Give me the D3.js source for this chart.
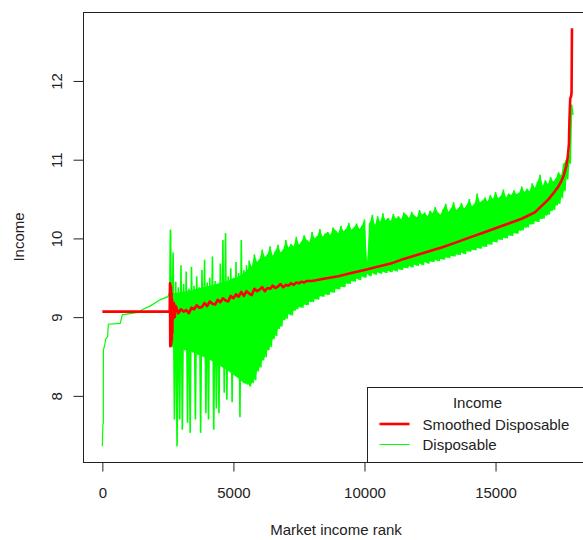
<!DOCTYPE html>
<html>
<head>
<meta charset="utf-8">
<script src="https://cdn.jsdelivr.net/npm/d3@7"></script>
<style>
  body { margin: 0; background: #fff; }
  svg { display: block; font-family: "Liberation Sans", Arial, sans-serif; }
</style>
</head>
<body>
<div id="chart"></div>
<script>
// disposable income, left (smooth) part: rank / log income
const dispLeftRank = [0, 20, 38, 40, 100, 120, 200, 229, 680, 760, 1360, 1550, 1820, 2200, 2500, 2580];
const dispLeftValue = [7.36, 7.63, 7.66, 8.58, 8.66, 8.72, 8.75, 8.91, 8.92, 9.03, 9.06, 9.10, 9.14, 9.22, 9.26, 9.33];

// disposable income, noisy part: upper / lower readings every 100 ranks from 2600
const noiseStart = 2600;
const noiseStep = 100;
const dispHigh = [
  10.11, 9.82, 9.45, 9.38, 9.66, 9.42, 9.58, 9.36, 9.64, 9.40,
  9.52, 9.38, 9.60, 9.73, 9.44, 9.50, 9.77, 9.46, 9.42, 9.68,
  9.98, 10.07, 9.52, 9.62, 9.50, 9.70, 9.56, 9.98, 9.60, 9.66,
  9.72, 9.64, 9.80, 9.70, 9.74, 9.86, 9.76, 9.80, 9.90, 9.78,
  9.84, 9.92, 9.82, 9.86, 9.98, 9.88, 9.93, 9.90, 10.02, 9.92,
  9.96, 10.04, 9.98, 9.95, 10.08, 10.00, 10.03, 10.12, 10.02, 10.06,
  10.08, 10.04, 10.14, 10.10, 10.07, 10.16, 10.09, 10.12, 10.20, 10.11,
  10.14, 10.19, 10.12, 10.16, 10.24, 9.70, 10.20, 10.30, 10.17, 10.28,
  10.21, 10.32, 10.23, 10.26, 10.22, 10.31, 10.25, 10.28, 10.24, 10.33,
  10.30, 10.26, 10.34, 10.29, 10.27, 10.36, 10.30, 10.33, 10.28, 10.35,
  10.32, 10.40, 10.33, 10.30, 10.37, 10.44, 10.34, 10.38, 10.46, 10.36,
  10.39, 10.45, 10.38, 10.42, 10.50, 10.41, 10.44, 10.57, 10.46, 10.48,
  10.52, 10.47, 10.55, 10.50, 10.59, 10.51, 10.54, 10.62, 10.52, 10.57,
  10.55, 10.61, 10.56, 10.58, 10.66, 10.59, 10.63, 10.60, 10.70, 10.64,
  10.72, 10.81, 10.67, 10.74, 10.69, 10.78, 10.72, 10.76, 10.84, 10.80,
  10.95, 11.00, 11.06, 11.70
];
const dispLow = [
  8.62, 7.70, 7.36, 7.70, 7.57, 8.58, 7.66, 7.53, 8.55, 7.70,
  8.52, 7.53, 8.50, 7.78, 7.70, 8.46, 7.57, 7.84, 7.78, 8.42,
  8.04, 7.95, 8.34, 7.92, 8.28, 8.25, 7.73, 8.20, 8.17, 8.14,
  8.12, 8.16, 8.20, 8.31, 8.36, 8.45, 8.49, 8.58, 8.62, 8.72,
  8.76, 8.85, 8.88, 8.96, 8.98, 9.04, 9.02, 9.08, 9.10, 9.13,
  9.12, 9.16, 9.15, 9.20, 9.19, 9.23, 9.22, 9.27, 9.26, 9.29,
  9.28, 9.32, 9.31, 9.36, 9.35, 9.39, 9.38, 9.43, 9.42, 9.46,
  9.45, 9.49, 9.47, 9.52, 9.50, 9.55, 9.52, 9.56, 9.54, 9.57,
  9.55, 9.58, 9.56, 9.59, 9.57, 9.60, 9.58, 9.61, 9.60, 9.63,
  9.62, 9.65, 9.63, 9.67, 9.65, 9.68, 9.66, 9.70, 9.68, 9.71,
  9.70, 9.73, 9.71, 9.74, 9.73, 9.76, 9.75, 9.78, 9.77, 9.80,
  9.79, 9.82, 9.80, 9.84, 9.83, 9.86, 9.85, 9.88, 9.87, 9.90,
  9.89, 9.93, 9.92, 9.96, 9.95, 9.99, 9.98, 10.01, 10.00, 10.04,
  10.03, 10.07, 10.06, 10.10, 10.10, 10.14, 10.14, 10.18, 10.18, 10.22,
  10.21, 10.25, 10.25, 10.29, 10.30, 10.35, 10.36, 10.42, 10.44, 10.51,
  10.60, 10.75, 10.95, 11.57
];

// dense core of the early noisy part (before the lower readings join up)
const coreRank = [2600, 3000, 3500, 4100, 4750, 5200, 5400, 5650];
const coreLow = [8.62, 8.60, 8.55, 8.46, 8.33, 8.22, 8.16, 8.14];
const coreHigh = [9.30, 9.32, 9.35, 9.40, 9.46, 9.52, 9.56, 9.64];

// smoothed disposable income
const smoothRank = [
  0, 2570, 2580, 2590, 2600, 2610, 2620, 2630, 2640, 2650, 2660, 2670, 2680, 2700, 2730, 2760, 2800,
  2900, 3000, 3100, 3200, 3300, 3400, 3500, 3600, 3700, 3800,
  3900, 4000, 4100, 4200, 4300, 4400, 4500, 4600, 4700, 4800,
  4900, 5000, 5100, 5200, 5300, 5400, 5500, 5600, 5700, 5800,
  5900, 6000, 6100, 6200, 6300, 6400, 6500, 6600, 6700, 6800,
  6900, 7000, 7100, 7200, 7300, 7400, 7500, 7600, 7700, 7800,
  8000, 8500, 9000, 9500, 10000, 10500, 11000, 11500, 12000, 12500,
  13000, 13500, 14000, 14500, 15000, 15500, 16000, 16500,
  17000, 17200, 17400, 17500, 17600, 17700, 17760, 17800, 17820, 17850, 17880, 17900, 17916
];
const smoothValue = [
  9.07, 9.07, 9.43, 8.63, 9.40, 8.64, 9.38, 8.66, 9.30, 8.70, 9.22, 8.80, 9.18, 8.98, 9.18, 9.00, 9.14,
  9.05, 9.10, 9.07, 9.09, 9.05, 9.12, 9.10, 9.15, 9.12, 9.13,
  9.18, 9.14, 9.20, 9.17, 9.16, 9.22, 9.19, 9.24, 9.21, 9.20,
  9.27, 9.24, 9.29, 9.26, 9.32, 9.27, 9.33, 9.30, 9.28, 9.36,
  9.33, 9.35, 9.38, 9.33, 9.37, 9.36, 9.40, 9.37, 9.39, 9.42,
  9.38, 9.41, 9.40, 9.43, 9.41, 9.44, 9.43, 9.45, 9.44, 9.46,
  9.46, 9.49, 9.52, 9.56, 9.60, 9.64, 9.68, 9.74, 9.79, 9.84,
  9.89, 9.95, 10.01, 10.07, 10.13, 10.19, 10.25, 10.33,
  10.49, 10.57, 10.66, 10.72, 10.80, 10.92, 11.05, 11.20, 11.50, 11.78, 11.80, 11.85, 12.67
];

const xTicks = [0, 5000, 10000, 15000];
const yTicks = [8, 9, 10, 11, 12];
const legendLabels = ["Smoothed Disposable", "Disposable"];
const legendColors = ["#ff0000", "#00ff00"];

const width = 583, height = 540;
const plot = { left: 84, top: 12, right: 592, bottom: 462 };

const svg = d3.select("#chart").append("svg")
  .attr("width", width)
  .attr("height", height);

const x = d3.scaleLinear().domain([-700, 18680]).range([plot.left, plot.right]);
const y = d3.scaleLinear().domain([7.16, 12.876]).range([plot.bottom, plot.top]);

svg.append("clipPath").attr("id", "clip")
  .append("rect")
  .attr("x", plot.left).attr("y", plot.top)
  .attr("width", plot.right - plot.left).attr("height", plot.bottom - plot.top);

// build the disposable series
let dispPoints = dispLeftRank.map((r, i) => [r, dispLeftValue[i]]);
dispHigh.forEach((h, i) => {
  const r = noiseStart + i * noiseStep;
  dispPoints.push([r, h]);
  dispPoints.push([r + noiseStep / 2, dispLow[i]]);
});
const smoothPoints = smoothRank.map((r, i) => [r, smoothValue[i]]);

// band where the lower readings are continuous (from rank 5600 on)
const bandFrom = 30;
const bandPoints = dispHigh.map((h, i) => ({ r: noiseStart + i * noiseStep, hi: h, lo: dispLow[i] }))
  .slice(bandFrom);
const corePoints = coreRank.map((r, i) => ({ r: r, hi: coreHigh[i], lo: coreLow[i] }));

const line = d3.line().x(d => x(d[0])).y(d => y(d[1]));
const band = d3.area().x(d => x(d.r)).y0(d => y(d.lo)).y1(d => y(d.hi));

const g = svg.append("g").attr("clip-path", "url(#clip)");

g.append("path")
  .datum(corePoints)
  .attr("d", band)
  .attr("fill", "#00ff00");

g.append("path")
  .datum(bandPoints)
  .attr("d", band)
  .attr("fill", "#00ff00");

g.append("path")
  .datum(dispPoints.slice(0, dispLeftRank.length + 1))
  .attr("d", line)
  .attr("fill", "none")
  .attr("stroke", "#00ff00")
  .attr("stroke-width", 1.2);

g.append("path")
  .datum(dispPoints.slice(dispLeftRank.length - 1))
  .attr("d", line)
  .attr("fill", "none")
  .attr("stroke", "#00ff00")
  .attr("stroke-width", 1.6);

g.append("path")
  .datum(smoothPoints)
  .attr("d", line)
  .attr("fill", "none")
  .attr("stroke", "#ff0000")
  .attr("stroke-width", 2.6)
  .attr("stroke-linejoin", "round");

// box
svg.append("rect")
  .attr("x", plot.left - 0.5).attr("y", plot.top + 0.5)
  .attr("width", plot.right - plot.left + 10).attr("height", plot.bottom - plot.top)
  .attr("fill", "none")
  .attr("stroke", "#222");

// axes
const xAxis = svg.append("g")
  .attr("transform", `translate(0, ${plot.bottom + 0.5})`)
  .call(d3.axisBottom(x).tickValues(xTicks).tickSize(9).tickFormat(d3.format("d")));
xAxis.select(".domain").remove();
xAxis.selectAll("line").attr("stroke", "#222");
xAxis.selectAll("text")
  .attr("y", 35).attr("dy", 0)
  .attr("fill", "#222")
  .style("font-size", "15px")
  .style("font-family", "'Liberation Sans', Arial, sans-serif");

const yAxis = svg.append("g")
  .attr("transform", `translate(${plot.left - 0.5}, 0)`)
  .call(d3.axisLeft(y).tickValues(yTicks).tickSize(10).tickFormat(d3.format("d")));
yAxis.select(".domain").remove();
yAxis.selectAll("line").attr("stroke", "#222");
yAxis.selectAll("text")
  .attr("transform", "rotate(-90)")
  .attr("x", 0).attr("y", -22).attr("dy", 0)
  .attr("text-anchor", "middle")
  .attr("fill", "#222")
  .style("font-size", "15px")
  .style("font-family", "'Liberation Sans', Arial, sans-serif");

// axis titles
svg.append("text")
  .attr("x", 336).attr("y", 535)
  .attr("text-anchor", "middle")
  .attr("fill", "#222")
  .style("font-size", "15px")
  .text("Market income rank");

svg.append("text")
  .attr("transform", `translate(24, ${(plot.top + plot.bottom) / 2}) rotate(-90)`)
  .attr("text-anchor", "middle")
  .attr("fill", "#222")
  .style("font-size", "15px")
  .text("Income");

// legend
const legend = svg.append("g").attr("transform", "translate(367.5, 387.5)");
legend.append("rect")
  .attr("width", 300).attr("height", 75)
  .attr("fill", "#fff")
  .attr("stroke", "#222");
legend.append("text")
  .attr("x", 110).attr("y", 20.5)
  .attr("text-anchor", "middle")
  .attr("fill", "#222")
  .style("font-size", "15px")
  .text("Income");
const item = legend.selectAll(".legend-item")
  .data(legendLabels)
  .enter().append("g")
  .attr("class", "legend-item")
  .attr("transform", (d, i) => `translate(0, ${36.5 + i * 20.5})`);
item.append("line")
  .attr("x1", 12).attr("x2", 42)
  .attr("stroke", (d, i) => legendColors[i])
  .attr("stroke-width", (d, i) => i === 0 ? 2.6 : 1);
item.append("text")
  .attr("x", 55).attr("y", 5.5)
  .attr("fill", "#222")
  .style("font-size", "15px")
  .text(d => d);
</script>
</body>
</html>
